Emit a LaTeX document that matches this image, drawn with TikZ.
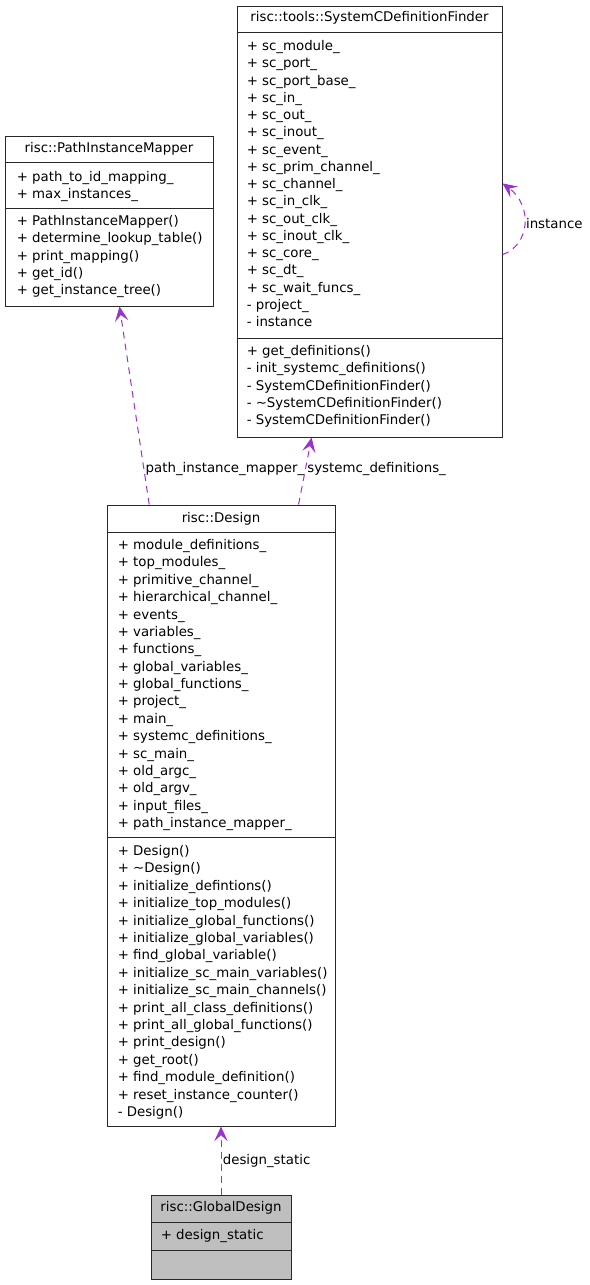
\documentclass[tikz,border=0pt]{standalone}
\usepackage{fontspec}
\setmainfont{DejaVu Sans}
\usetikzlibrary{arrows.meta,calc}
\definecolor{edgepurple}{RGB}{154,50,205}
\definecolor{boxgray}{RGB}{40,40,40}
\definecolor{fillgray}{RGB}{191,191,191}

\begin{document}
\begin{tikzpicture}[x=0.75pt,y=-0.75pt,
  classbox/.style={draw=boxgray,line width=0.75pt,inner sep=0pt,fill=white},
  member/.style={anchor=base west,inner sep=0pt,font=\fontsize{10}{12}\selectfont},
  title/.style={anchor=base,inner sep=0pt,font=\fontsize{10}{12}\selectfont},
  assoc/.style={edgepurple,line width=0.75pt,dash pattern=on 5pt off 4pt,
   -{Stealth[length=11pt,width=10pt,inset=4.5pt]}},
  elabel/.style={anchor=west,inner sep=1pt,text=black,font=\fontsize{10}{12}\selectfont}]
 \useasboundingbox (0,0) rectangle (589,1285);
 % classes
 \node[classbox,minimum width=208*0.75pt,minimum height=170*0.75pt] (pim) at (109,221) {};
 \node[classbox,minimum width=265*0.75pt,minimum height=431*0.75pt] (scdf) at (369.5,221.5) {};
 \node[classbox,minimum width=228*0.75pt,minimum height=621*0.75pt] (design) at (221,815.5) {};
 \node[classbox,fill=fillgray,minimum width=140*0.75pt,minimum height=84*0.75pt] (gdesign) at (221,1237) {};
 % compartments
 \draw[boxgray,line width=0.75pt] ([shift={(0,27)}]pim.north west) -- ([shift={(0,27)}]pim.north east)
  ([shift={(0,73)}]pim.north west) -- ([shift={(0,73)}]pim.north east);
 \draw[boxgray,line width=0.75pt] ([shift={(0,27)}]scdf.north west) -- ([shift={(0,27)}]scdf.north east)
  ([shift={(0,333)}]scdf.north west) -- ([shift={(0,333)}]scdf.north east);
 \draw[boxgray,line width=0.75pt] ([shift={(0,28)}]design.north west) -- ([shift={(0,28)}]design.north east)
  ([shift={(0,333)}]design.north west) -- ([shift={(0,333)}]design.north east);
 \draw[boxgray,line width=0.75pt] ([shift={(0,28)}]gdesign.north west) -- ([shift={(0,28)}]gdesign.north east)
  ([shift={(0,56)}]gdesign.north west) -- ([shift={(0,56)}]gdesign.north east);
 % titles
 \node[title] (pimt) at ([shift={(0,17)}]pim.north) {risc::PathInstanceMapper};
 \node[title] (scdft) at ([shift={(0,16)}]scdf.north) {risc::tools::SystemCDefinitionFinder};
 \node[title] (designt) at ([shift={(0,18)}]design.north) {risc::Design};
 \node[title] (gdesignt) at ([shift={(0,17)}]gdesign.north) {risc::GlobalDesign};
 % members
 \foreach \m [count=\i from 0] in {+ path\_to\_id\_mapping\_, + max\_instances\_}
  \node[member] (pima\i) at ([shift={(12,46+17.3*\i)}]pim.north west) {\m};
 \foreach \m [count=\i from 0] in {+ PathInstanceMapper(), + determine\_lookup\_table(),
  + print\_mapping(), + get\_id(), + get\_instance\_tree()}
  \node[member] (pimo\i) at ([shift={(12,90+17.3*\i)}]pim.north west) {\m};
 \foreach \m [count=\i from 0] in {+ sc\_module\_, + sc\_port\_, + sc\_port\_base\_, + sc\_in\_,
  + sc\_out\_, + sc\_inout\_, + sc\_event\_, + sc\_prim\_channel\_, + sc\_channel\_,
  + sc\_in\_clk\_, + sc\_out\_clk\_, + sc\_inout\_clk\_, + sc\_core\_, + sc\_dt\_,
  + sc\_wait\_funcs\_, - project\_, - instance}
  \node[member] (scdfa\i) at ([shift={(10,45+17.25*\i)}]scdf.north west) {\m};
 \foreach \m [count=\i from 0] in {+ get\_definitions(), - init\_systemc\_definitions(),
  - SystemCDefinitionFinder(), - \textasciitilde SystemCDefinitionFinder(),
  - SystemCDefinitionFinder()}
  \node[member] (scdfo\i) at ([shift={(10,350+17.25*\i)}]scdf.north west) {\m};
 \foreach \m [count=\i from 0] in {+ module\_definitions\_, + top\_modules\_,
  + primitive\_channel\_, + hierarchical\_channel\_, + events\_, + variables\_,
  + functions\_, + global\_variables\_, + global\_functions\_, + project\_, + main\_,
  + systemc\_definitions\_, + sc\_main\_, + old\_argc\_, + old\_argv\_, + input\_files\_,
  + path\_instance\_mapper\_}
  \node[member] (designa\i) at ([shift={(11,45+17.375*\i)}]design.north west) {\m};
 \foreach \m [count=\i from 0] in {+ Design(), + \textasciitilde Design(),
  + initialize\_defintions(), + initialize\_top\_modules(),
  + initialize\_global\_functions(), + initialize\_global\_variables(),
  + find\_global\_variable(), + initialize\_sc\_main\_variables(),
  + initialize\_sc\_main\_channels(), + print\_all\_class\_definitions(),
  + print\_all\_global\_functions(), + print\_design(), + get\_root(),
  + find\_module\_definition(), + reset\_instance\_counter(), - Design()}
  \node[member] (designo\i) at ([shift={(11,351+17.4*\i)}]design.north west) {\m};
 \node[member] (gdesigna0) at ([shift={(10,45)}]gdesign.north west) {+ design\_static};
 % associations
 \draw[assoc] (design.103) -- (pim.277)
  node[elabel,pos=0.18] (pimlab) {path\_instance\_mapper\_};
 \draw[assoc] (design.76) -- (scdf.255)
  node[elabel,pos=0.53] (scdflab) {systemc\_definitions\_};
 \draw[assoc] (gdesign.north) -- (design.south)
  node[elabel,pos=0.5] (gdlab) {design\_static};
 \draw[assoc] (scdf.346) .. controls +(28,-10) and +(30,22) .. (scdf.16)
  node[elabel,pos=0.5] (instlab) {instance};
\end{tikzpicture}
\end{document}
